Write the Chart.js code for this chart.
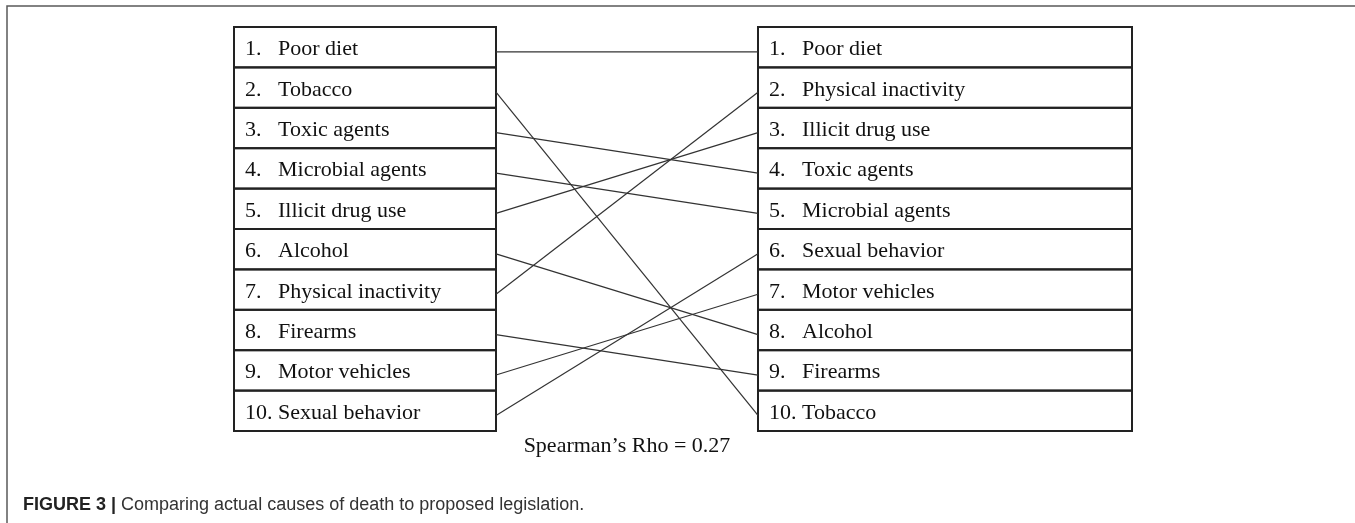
<!DOCTYPE html>
<html>
<head>
<meta charset="utf-8">
<script src="https://cdn.jsdelivr.net/npm/chart.js@4.4.1/dist/chart.umd.min.js"></script>
<style>
    html, body { margin: 0; padding: 0; background: #ffffff; }
    #wrap { position: relative; width: 1355px; height: 523px; }
</style>
</head>
<body>
<div id="wrap"><canvas id="rankChart"></canvas></div>
<script>
// Ranking of actual causes of death (left) vs. proposed legislation (right)
const causesOfDeath = ['Poor diet', 'Tobacco', 'Toxic agents', 'Microbial agents', 'Illicit drug use',
    'Alcohol', 'Physical inactivity', 'Firearms', 'Motor vehicles', 'Sexual behavior'];
const legislationRank = ['Poor diet', 'Physical inactivity', 'Illicit drug use', 'Toxic agents', 'Microbial agents',
    'Sexual behavior', 'Motor vehicles', 'Alcohol', 'Firearms', 'Tobacco'];
const spearmanRho = '0.27';
const captionLabel = 'FIGURE 3 |';
const captionText = ' Comparing actual causes of death to proposed legislation.';

// x scale: left box spans [-1, 0], gap [0, 1], right box [1, X_MAX]
const X_MAX = 2.4275;
const LINE_OFFSET = 0.115;   // connectors sit a little below row centres

const connectors = causesOfDeath.map((name, i) => ({
    label: name,
    data: [
        { x: 0, y: i + 1 + LINE_OFFSET },
        { x: 1, y: legislationRank.indexOf(name) + 1 + LINE_OFFSET }
    ],
    borderColor: '#333333',
    borderWidth: 1.2,
    pointRadius: 0,
    showLine: true,
    fill: false,
    clip: false
}));

const tablePlugin = {
    id: 'rankTables',
    beforeDatasetsDraw(chart) {
        const { ctx, scales: { x, y } } = chart;
        const drawColumn = (items, x0, x1) => {
            const left = x.getPixelForValue(x0);
            const right = x.getPixelForValue(x1);
            ctx.save();
            ctx.strokeStyle = '#222222';
            ctx.lineWidth = 2;
            ctx.fillStyle = '#111111';
            ctx.font = '22px "Liberation Serif", "Times New Roman", serif';
            ctx.textBaseline = 'alphabetic';
            items.forEach((name, i) => {
                const top = y.getPixelForValue(i + 0.5);
                const bottom = y.getPixelForValue(i + 1.5);
                ctx.strokeRect(left, top, right - left, bottom - top);
                const base = (top + bottom) / 2 + 8;
                ctx.textAlign = 'left';
                ctx.fillText((i + 1) + '.', left + 11, base);
                ctx.fillText(name, left + 44, base);
            });
            ctx.restore();
        };
        drawColumn(causesOfDeath, -1, 0);
        drawColumn(legislationRank, 1, X_MAX);
    },
    afterDraw(chart) {
        const { ctx, scales: { x, y } } = chart;
        ctx.save();
        // frame
        ctx.strokeStyle = '#5a5a5a';
        ctx.lineWidth = 1.5;
        ctx.beginPath();
        ctx.moveTo(7, 523);
        ctx.lineTo(7, 6);
        ctx.lineTo(1355, 6);
        ctx.stroke();

        // Spearman's rho under the gap
        ctx.fillStyle = '#111111';
        ctx.font = '22px "Liberation Serif", "Times New Roman", serif';
        ctx.textAlign = 'center';
        ctx.textBaseline = 'alphabetic';
        const cx = (x.getPixelForValue(0) + x.getPixelForValue(1)) / 2;
        ctx.fillText('Spearman\u2019s Rho = ' + spearmanRho, cx, y.getPixelForValue(10.5) + 21);

        // caption
        ctx.textAlign = 'left';
        ctx.font = 'bold 18px "Liberation Sans", Arial, sans-serif';
        ctx.fillStyle = '#222222';
        ctx.fillText(captionLabel, 23, 510);
        const w = ctx.measureText(captionLabel).width;
        ctx.font = '18px "Liberation Sans", Arial, sans-serif';
        ctx.fillStyle = '#333333';
        ctx.fillText(captionText, 23 + w, 510);
        ctx.restore();
    }
};

const chart = new Chart(document.getElementById('rankChart'), {
    type: 'scatter',
    data: { datasets: connectors },
    options: {
        responsive: true,
        maintainAspectRatio: false,
        animation: false,
        layout: {
            padding: { left: 234, right: 223, top: 27, bottom: 92 }
        },
        scales: {
            x: { type: 'linear', min: -1, max: X_MAX, display: false },
            y: { type: 'linear', min: 0.5, max: 10.5, reverse: true, display: false }
        },
        plugins: {
            legend: { display: false },
            tooltip: { enabled: false }
        }
    },
    plugins: [tablePlugin]
});
</script>
</body>
</html>
